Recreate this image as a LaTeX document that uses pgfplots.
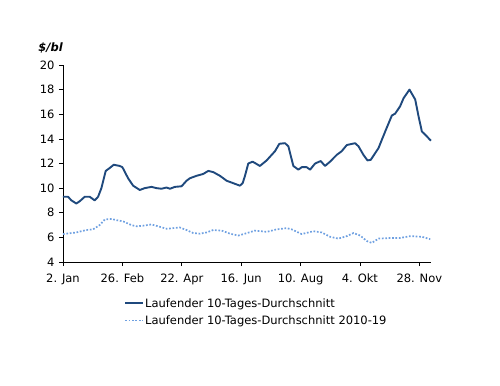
\documentclass[border=0pt]{standalone}
\usepackage{fontspec}
\setmainfont{DejaVu Sans}
\usepackage{pgfplots}
\pgfplotsset{compat=1.18}
\definecolor{navy}{RGB}{31,73,125}
\definecolor{lblue}{RGB}{110,160,225}
\begin{document}
\begin{tikzpicture}
\path[use as bounding box] (-63bp,-124bp) rectangle (437bp,262bp);
\begin{axis}[
  at={(0,0)}, anchor=south west,
  width=368bp, height=197bp, scale only axis,
  xmin=0, xmax=347, ymin=4, ymax=20,
  axis x line*=bottom, axis y line*=left,
  axis line style={black, line width=0.6bp},
  xtick={0,56,112,168,224,280,336},
  xticklabels={2. Jan,26. Feb,22. Apr,16. Jun,10. Aug,4. Okt,28. Nov},
  ytick={4,6,...,20},
  tick align=outside, major tick length=4bp,
  tick style={black, line width=0.6bp},
  ticklabel style={font=\fontsize{11.5bp}{13bp}\selectfont},
  xticklabel style={yshift=-4bp},
  yticklabel style={xshift=-1bp},
  /pgf/number format/assume math mode=true,
  x axis line style={-}, y axis line style={-},
  clip=false,
  legend style={draw=none, fill=none, inner sep=0pt,
    at={(axis description cs:0.166,-0.178)}, anchor=north west,
    font=\fontsize{11.5bp}{13bp}\selectfont, row sep=5bp,
    nodes={inner sep=1bp}},
  legend cell align=left,
  legend image code/.code={\draw[#1] (0bp,0bp) -- (18bp,0bp);},
]
\addplot[navy, line width=1.9bp, line join=round] coordinates {
(0,9.3)(4.7,9.3)(8,9.0)(12.6,8.75)(16,8.95)(20.5,9.3)(25.2,9.3)(29.9,9.0)(33.1,9.3)(36.2,10.0)
(40.3,11.4)(43.5,11.6)(47.9,11.9)(53.5,11.8)(56,11.7)(61.4,10.8)(66.1,10.2)(72.4,9.85)
(77.1,10.0)(83.4,10.1)(88.2,10.0)(92.9,9.95)(97.6,10.05)(100.8,9.95)(105.5,10.1)(111.8,10.15)
(116.5,10.6)(119.6,10.8)(125.9,11.0)(132.2,11.15)(137,11.4)(141.7,11.3)(148,11.0)(154.3,10.6)
(160.6,10.4)(166.8,10.2)(169.4,10.4)(171.6,11.0)(174.7,12.0)(178.8,12.15)(185.7,11.8)(192,12.25)
(199.9,13.0)(204,13.6)(209.3,13.65)(212.5,13.4)(217.2,11.8)(221.9,11.5)(225.1,11.7)(229.8,11.7)
(233,11.5)(237.7,12.0)(243,12.2)(247.1,11.8)(251.8,12.15)(258.1,12.7)(262.8,13.0)(267.6,13.5)
(275.4,13.65)(278.6,13.4)(283.3,12.7)(287.1,12.25)(290.2,12.3)(297.5,13.25)(303.8,14.6)
(310.1,15.9)(313.2,16.05)(317.9,16.65)(321.1,17.3)(326.7,18.0)(332.1,17.2)(335.2,15.85)
(338.4,14.6)(343.1,14.2)(346.9,13.85)
};
\addlegendentry{Laufender 10-Tages-Durchschnitt}
\addplot[lblue, line width=1.7bp, dash pattern=on 1.7bp off 1.7bp] coordinates {
(0,6.27)(12.6,6.4)(22,6.6)(28.3,6.65)(34.6,7.0)(39.4,7.45)(45.7,7.5)(50.4,7.4)(56.7,7.3)
(64.5,7.0)(69.3,6.9)(75.6,6.95)(83.4,7.05)(89.7,6.9)(97.6,6.7)(103.9,6.75)(110.2,6.8)
(116.5,6.6)(122.8,6.35)(129.1,6.3)(135.4,6.4)(141.7,6.6)(149.6,6.55)(157.4,6.3)(165.3,6.15)
(171.6,6.3)(181,6.55)(192,6.45)(201.5,6.65)(210.9,6.75)(215.6,6.65)(225.1,6.27)(236.1,6.5)
(244,6.4)(251.8,6.05)(259.7,5.9)(267.6,6.1)(273.9,6.35)(280.2,6.15)(286.5,5.7)(291.2,5.55)
(297.5,5.9)(308.5,5.95)(317.9,5.95)(327.4,6.1)(338.4,6.05)(346.3,5.85)
};
\addlegendentry{Laufender 10-Tages-Durchschnitt 2010-19}
\node[anchor=base east, font=\fontsize{11.5bp}{13bp}\selectfont\bfseries\itshape, inner sep=0pt]
  at ([yshift=13bp]rel axis cs:0,1) {\$/bl};
\end{axis}
\end{tikzpicture}
\end{document}
